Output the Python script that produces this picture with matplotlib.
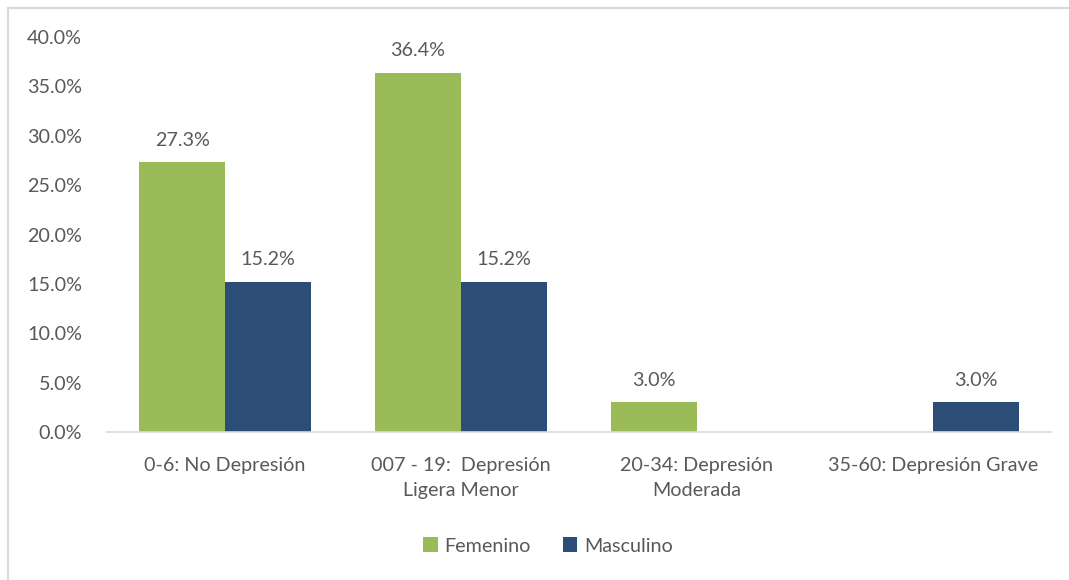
import matplotlib
matplotlib.use("Agg")
import matplotlib.pyplot as plt
from matplotlib.patches import Rectangle
import numpy as np

categories = ["0-6: No Depresión", "007 - 19:  Depresión\nLigera Menor", "20-34: Depresión\nModerada", "35-60: Depresión Grave"]
femenino = [27.3, 36.4, 3.0, 0.0]
masculino = [15.2, 15.2, 0.0, 3.0]
yticks = [0, 5, 10, 15, 20, 25, 30, 35, 40]

plt.rcParams['font.family'] = ['Lato', 'DejaVu Sans']
txt = '#595959'
green = '#9BBB59'
navy = '#2C4D75'
fs = 14.2

fig = plt.figure(figsize=(10.69, 5.8), dpi=100)
fig.patches.append(Rectangle((8/1069, -0.1), 1.2, (580-8)/580 + 0.1, transform=fig.transFigure,
                             fill=False, edgecolor='#D9D9D9', linewidth=1.5))
ax = fig.add_axes([107/1069, 1-432/580, 944/1069, (432-37)/580])

x = np.arange(len(categories))
w = 0.364
b1 = ax.bar(x - w/2, femenino, w, color=green, label='Femenino')
b2 = ax.bar(x + w/2, masculino, w, color=navy, label='Masculino')
for bars, vals in ((b1, femenino), (b2, masculino)):
    for r, v in zip(bars, vals):
        if v > 0:
            ax.text(r.get_x() + r.get_width()/2, v + 1.4, f"{v:.1f}%", ha='center', va='bottom',
                    fontsize=fs, color=txt)

ax.set_xlim(-0.5, len(categories) - 0.5)
ax.set_ylim(0, 40)
ax.set_yticks(yticks)
ax.set_yticklabels([f"{t:.1f}%" for t in yticks])
ax.set_xticks(x)
ax.set_xticklabels(categories, linespacing=1.6)
ax.tick_params(axis='both', length=0, labelsize=fs, labelcolor=txt)
ax.tick_params(axis='y', pad=18)
ax.tick_params(axis='x', pad=18)
for s in ['top', 'right', 'left']:
    ax.spines[s].set_visible(False)
ax.spines['bottom'].set_color('#D9D9D9')
ax.spines['bottom'].set_linewidth(1.2)

leg = fig.legend(loc='center', bbox_to_anchor=(548/1069, 1-546/580), ncol=2, frameon=False,
                 fontsize=fs, handlelength=0.75, handleheight=0.75, handletextpad=0.35, columnspacing=1.6)
for t in leg.get_texts():
    t.set_color(txt)

fig.savefig('out.png', dpi=100)
